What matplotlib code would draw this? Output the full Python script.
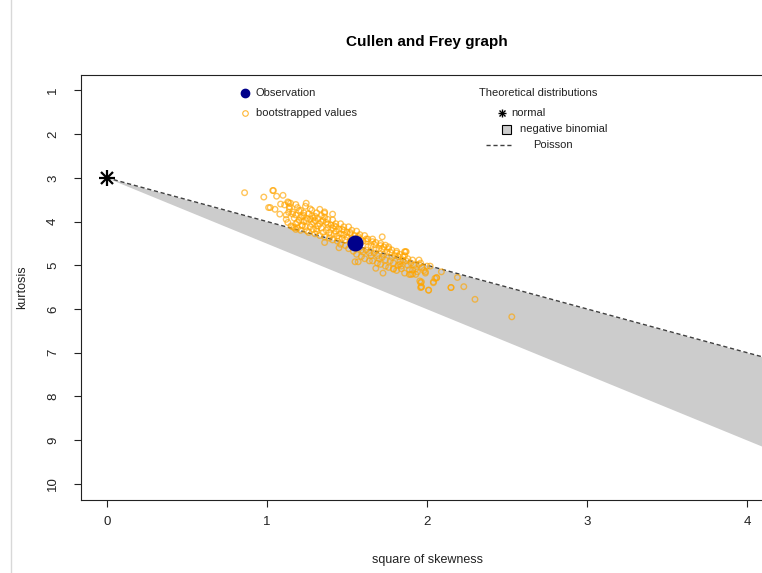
import matplotlib
matplotlib.use("Agg")
import matplotlib.pyplot as plt
from matplotlib.lines import Line2D
from matplotlib.patches import Rectangle

plt.rcParams['font.family'] = ['Liberation Sans', 'DejaVu Sans']

# observation
obs_skew2 = 1.55
obs_kurt = 4.49

# theoretical distributions (straight lines from the normal point)
normal_pt = (0, 3)
line_skew2 = [0, 4.3]
poisson_kurt = [3, 7.3]
nbinom_kurt = [3, 9.45]

# bootstrapped values
boot_skew2 = [
    0.86, 0.98, 1.04, 1.06, 1.10, 1.01, 1.02, 1.05, 1.08, 1.085, 1.135, 1.14, 1.18, 1.245, 1.135,
    1.16, 1.20, 1.21, 1.27, 1.28, 1.245, 1.30, 1.22, 1.19, 1.17, 1.25, 1.31, 1.18, 1.036, 1.147,
    1.41, 1.36, 1.72, 1.86, 1.74, 1.955, 1.965, 1.68, 1.55, 1.57, 1.45, 1.36,
    1.865, 1.725, 1.965, 1.96, 2.01, 2.04, 2.06, 2.15, 1.90, 1.84, 1.79, 1.83,
    1.87, 1.95, 2.02, 2.05, 2.06, 2.04, 2.09, 1.96, 1.965, 2.01, 2.15, 2.19, 2.23, 2.30, 2.53,
    1.91, 1.99, 1.89, 1.93,
    1.11, 1.12, 1.13, 1.14, 1.12, 1.15, 1.13,
    1.16, 1.17, 1.18, 1.19, 1.16, 1.18, 1.20, 1.19,
    1.21, 1.22, 1.23, 1.24, 1.21, 1.23, 1.25, 1.22, 1.24,
    1.26, 1.27, 1.28, 1.29, 1.26, 1.28, 1.30, 1.27, 1.29, 1.30,
    1.31, 1.32, 1.33, 1.34, 1.31, 1.33, 1.35, 1.32, 1.34, 1.35, 1.33,
    1.36, 1.37, 1.38, 1.39, 1.36, 1.38, 1.40, 1.37, 1.39, 1.40, 1.36,
    1.41, 1.42, 1.43, 1.44, 1.41, 1.43, 1.45, 1.42, 1.44, 1.45, 1.41,
    1.46, 1.47, 1.48, 1.49, 1.46, 1.48, 1.50, 1.47, 1.49, 1.50, 1.46,
    1.51, 1.52, 1.53, 1.54, 1.51, 1.53, 1.55, 1.52, 1.54, 1.55,
    1.56, 1.57, 1.58, 1.59, 1.56, 1.58, 1.60, 1.57, 1.59, 1.60,
    1.61, 1.62, 1.63, 1.64, 1.61, 1.63, 1.65, 1.62, 1.64, 1.65,
    1.66, 1.67, 1.68, 1.69, 1.66, 1.68, 1.70, 1.67, 1.69, 1.70,
    1.71, 1.72, 1.73, 1.74, 1.71, 1.73, 1.75, 1.72, 1.74,
    1.76, 1.77, 1.78, 1.79, 1.76, 1.78, 1.80, 1.77, 1.79,
    1.81, 1.82, 1.83, 1.84, 1.81, 1.83, 1.85, 1.82,
    1.86, 1.87, 1.88, 1.89, 1.86, 1.88, 1.90,
    1.91, 1.92, 1.93, 1.94, 1.91, 1.95,
    1.96, 1.97, 1.98, 1.99, 2.00,
    1.23, 1.29, 1.34, 1.38, 1.43, 1.48, 1.52, 1.57, 1.62, 1.66, 1.71, 1.76, 1.81, 1.85,
]
boot_kurt = [
    3.34, 3.44, 3.29, 3.42, 3.40, 3.68, 3.68, 3.72, 3.83, 3.60, 3.57, 3.66, 3.61, 3.58, 3.79,
    3.83, 3.75, 3.90, 3.71, 3.87, 3.98, 3.98, 4.10, 4.02, 4.14, 4.21, 4.17, 4.18, 3.29, 3.58,
    3.83, 3.81, 4.35, 4.69, 4.54, 5.36, 5.49, 5.07, 4.92, 4.92, 4.60, 4.48,
    4.69, 5.18, 5.38, 5.51, 5.57, 5.38, 5.28, 5.51, 5.21, 5.08, 5.09, 4.98,
    4.69, 4.88, 5.02, 5.30, 5.29, 5.40, 5.15, 5.40, 5.50, 5.57, 5.51, 5.28, 5.49, 5.78, 6.18,
    5.11, 5.15, 5.21, 5.21,
    3.62, 3.85, 4.02, 3.71, 3.95, 4.10, 3.55,
    3.78, 3.92, 4.05, 3.68, 4.12, 3.85, 3.97, 4.15,
    3.74, 3.88, 4.00, 4.12, 4.20, 3.80, 3.93, 4.08, 3.65,
    3.82, 3.95, 4.06, 4.18, 4.25, 3.74, 3.88, 4.12, 4.02, 4.28,
    3.80, 3.93, 4.05, 4.15, 4.22, 4.32, 3.98, 4.10, 3.86, 4.25, 3.72,
    3.90, 4.02, 4.14, 4.25, 4.35, 3.95, 4.08, 4.20, 4.38, 4.30, 3.78,
    3.96, 4.10, 4.22, 4.33, 4.42, 4.05, 4.18, 4.28, 4.45, 4.38, 4.15,
    4.05, 4.18, 4.30, 4.42, 4.52, 4.12, 4.25, 4.38, 4.55, 4.35, 4.28,
    4.12, 4.25, 4.38, 4.55, 4.62, 4.20, 4.32, 4.45, 4.68, 4.60,
    4.22, 4.38, 4.50, 4.65, 4.75, 4.30, 4.45, 4.58, 4.80, 4.70,
    4.32, 4.45, 4.58, 4.72, 4.85, 4.40, 4.55, 4.65, 4.90, 4.78,
    4.40, 4.52, 4.65, 4.78, 4.90, 4.48, 4.62, 4.72, 4.95, 4.85,
    4.50, 4.62, 4.75, 4.88, 4.98, 4.58, 4.70, 4.82, 5.02,
    4.58, 4.70, 4.82, 4.95, 5.05, 4.65, 4.78, 4.90, 5.08,
    4.68, 4.80, 4.92, 5.02, 5.12, 4.75, 4.88, 5.00,
    4.78, 4.90, 5.00, 5.10, 5.18, 4.85, 4.95,
    4.88, 5.00, 5.08, 5.15, 5.20, 4.98,
    4.95, 5.05, 5.12, 5.18, 5.02,
    3.86, 3.92, 4.00, 4.06, 4.12, 4.20, 4.28, 4.34, 4.40, 4.46, 4.55, 4.62, 4.72, 4.80,
]

W, H = 762, 573


def fx(px):
    return px / W


def fy(py):
    return 1 - py / H


fig = plt.figure(figsize=(W / 100, H / 100), dpi=100)
ax = fig.add_axes([fx(81.4), fy(499.5), fx(772.6) - fx(81.4), fy(74.7) - fy(499.5)])

# negative binomial region and Poisson line
ax.fill_between(line_skew2, poisson_kurt, nbinom_kurt, color="#cccccc", linewidth=0, zorder=1)
ax.plot(line_skew2, poisson_kurt, color="#404040", linestyle=(0, (3, 2)), linewidth=1, zorder=2)

# bootstrapped values
ax.scatter(boot_skew2, boot_kurt, s=16, facecolors="none", edgecolors="orange",
           linewidths=1.0, alpha=0.65, zorder=3)

# observation
ax.plot(obs_skew2, obs_kurt, "o", color="darkblue", markersize=10.5, zorder=4)

# normal
ax.plot(*normal_pt, marker="+", color="black", markersize=11, mew=1.6, zorder=5)
ax.plot(*normal_pt, marker="x", color="black", markersize=8, mew=1.6, zorder=5)

ax.set_xlim(-0.16, 4.16)
ax.set_ylim(10.36, 0.64)
ax.set_xticks([0, 1, 2, 3, 4])
ax.set_yticks(range(1, 11))
ax.tick_params(axis="both", direction="out", length=5, width=0.8, labelsize=9.5, colors="#222222")
ax.tick_params(axis="x", pad=7)
ax.tick_params(axis="y", pad=11)
for lab in ax.get_yticklabels():
    lab.set_rotation(90)
    lab.set_va("center")
for s in ax.spines.values():
    s.set_linewidth(0.8)
    s.set_color("#222222")

# titles / axis labels
fig.text(fx(427), fy(42), "Cullen and Frey graph", ha="center", va="center",
         fontsize=11, fontweight="bold")
fig.text(fx(427), fy(560), "square of skewness", ha="center", va="center", fontsize=9, color="#222222")
fig.text(fx(22), fy(287), "kurtosis", ha="center", va="center", rotation=90, fontsize=9, color="#222222")

# legend 1
fig.add_artist(Line2D([fx(245)], [fy(93)], marker="o", color="darkblue", markersize=6))
fig.add_artist(Line2D([fx(245)], [fy(113)], marker="o", markerfacecolor="none",
                      markeredgecolor="orange", markersize=4, mew=0.8, alpha=0.8))
fig.text(fx(256), fy(93), "Observation", va="center", fontsize=8, color="#222222")
fig.text(fx(256), fy(113), "bootstrapped values", va="center", fontsize=8, color="#222222")

# legend 2
fig.text(fx(479), fy(93), "Theoretical distributions", va="center", fontsize=8, color="#222222")
fig.add_artist(Line2D([fx(502)], [fy(113)], marker="+", color="black", markersize=6, mew=1))
fig.add_artist(Line2D([fx(502)], [fy(113)], marker="x", color="black", markersize=4.5, mew=1))
fig.text(fx(511), fy(113), "normal", va="center", fontsize=8, color="#222222")
fig.add_artist(Rectangle((fx(501.5), fy(133.5)), fx(9), 9 / H, facecolor="#cccccc",
                         edgecolor="black", linewidth=0.8))
fig.text(fx(520), fy(129), "negative binomial", va="center", fontsize=8, color="#222222")
fig.add_artist(Line2D([fx(486), fx(511)], [fy(145), fy(145)], color="#404040",
                      linestyle=(0, (3, 2)), linewidth=1))
fig.text(fx(533), fy(145), "Poisson", va="center", fontsize=8, color="#222222")

# screenshot border on the left
fig.add_artist(Line2D([fx(11), fx(11)], [0, 1], color="#d8d8d8", linewidth=1))

fig.savefig("out.png", dpi=100)
